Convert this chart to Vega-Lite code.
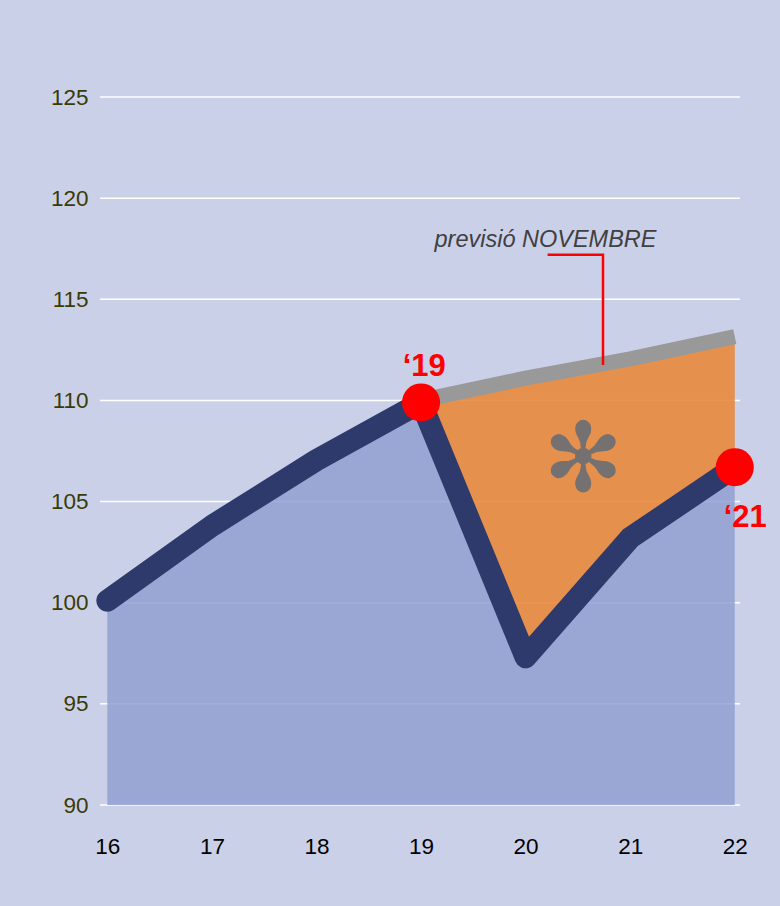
{
  "$schema": "https://vega.github.io/schema/vega-lite/v6.json",
  "width": 640,
  "height": 708,
  "autosize": {"type": "none"},
  "padding": {"left": 100, "top": 97, "right": 40, "bottom": 101},
  "background": "#cbd0e9",
  "config": {"view": {"stroke": null}, "font": "Liberation Sans"},
  "datasets": {
    "real": [
      {"year": 16, "value": 100.1},
      {"year": 17, "value": 103.8},
      {"year": 18, "value": 107.05},
      {"year": 19, "value": 109.9},
      {"year": 20, "value": 97.3},
      {"year": 21, "value": 103.2},
      {"year": 22, "value": 106.7}
    ],
    "gap": [
      {"year": 19, "forecast": 110.0, "value": 109.9},
      {"year": 20, "forecast": 111.1, "value": 97.3},
      {"year": 21, "forecast": 112.05, "value": 103.2},
      {"year": 22, "forecast": 113.15, "value": 106.7}
    ],
    "grid": [{"g": 90}, {"g": 95}, {"g": 100}, {"g": 105}, {"g": 110}, {"g": 115}, {"g": 120}, {"g": 125}],
    "dots": [
      {"year": 19, "value": 109.9, "label": "‘19"},
      {"year": 22, "value": 106.7, "label": "‘21"}
    ],
    "leader": [
      {"o": 1, "x": 20.21, "y": 117.2},
      {"o": 2, "x": 20.74, "y": 117.2},
      {"o": 3, "x": 20.74, "y": 111.75}
    ]
  },
  "layer": [
    {
      "data": {"name": "grid"},
      "mark": {"type": "rule", "color": "white", "strokeWidth": 1.5},
      "encoding": {
        "y": {
          "field": "g", "type": "quantitative",
          "scale": {"domain": [90, 125], "nice": false, "zero": false},
          "axis": {"values": [90, 95, 100, 105, 110, 115, 120, 125], "domain": false, "ticks": false, "tickSize": 0, "grid": false, "labelFontSize": 22.5, "labelColor": "#3a3a05", "labelPadding": 12, "title": null}
        }
      }
    },
    {
      "data": {"name": "real"},
      "mark": {"type": "area", "color": "#92a0d0", "opacity": 0.85},
      "encoding": {
        "x": {
          "field": "year", "type": "quantitative",
          "scale": {"domain": [15.93, 22.05], "nice": false, "zero": false},
          "axis": {"values": [16, 17, 18, 19, 20, 21, 22], "format": "d", "domain": false, "ticks": false, "tickSize": 0, "grid": false, "labelFontSize": 22.5, "labelColor": "#000000", "labelPadding": 30, "title": null}
        },
        "y": {"field": "value", "type": "quantitative"},
        "y2": {"datum": 90}
      }
    },
    {
      "data": {"name": "gap"},
      "mark": {"type": "area", "color": "#e98638", "opacity": 0.88},
      "encoding": {
        "x": {"field": "year", "type": "quantitative"},
        "y": {"field": "forecast", "type": "quantitative"},
        "y2": {"field": "value"}
      }
    },
    {
      "data": {"name": "gap"},
      "mark": {"type": "line", "color": "#999999", "strokeWidth": 15, "strokeCap": "butt"},
      "encoding": {
        "x": {"field": "year", "type": "quantitative"},
        "y": {"field": "forecast", "type": "quantitative"}
      }
    },
    {
      "data": {"name": "real"},
      "mark": {"type": "line", "color": "#2e3a6b", "strokeWidth": 22, "strokeCap": "round", "strokeJoin": "round"},
      "encoding": {
        "x": {"field": "year", "type": "quantitative"},
        "y": {"field": "value", "type": "quantitative"}
      }
    },
    {
      "data": {"name": "dots"},
      "mark": {"type": "circle", "color": "#ff0000", "opacity": 1, "size": 1450},
      "encoding": {
        "x": {"field": "year", "type": "quantitative"},
        "y": {"field": "value", "type": "quantitative"}
      }
    },
    {
      "data": {"values": [{"x": 19.03, "y": 111.65, "t": "‘19"}, {"x": 22.1, "y": 104.2, "t": "‘21"}]},
      "mark": {"type": "text", "color": "#ff0000", "fontSize": 31, "fontWeight": "bold", "align": "center", "baseline": "middle"},
      "encoding": {
        "x": {"field": "x", "type": "quantitative"},
        "y": {"field": "y", "type": "quantitative"},
        "text": {"field": "t"}
      }
    },
    {
      "data": {"values": [{"x": 20.19, "y": 117.93, "t": "previsió NOVEMBRE"}]},
      "mark": {"type": "text", "color": "#404040", "fontSize": 23.5, "fontStyle": "italic", "align": "center", "baseline": "middle"},
      "encoding": {
        "x": {"field": "x", "type": "quantitative"},
        "y": {"field": "y", "type": "quantitative"},
        "text": {"field": "t"}
      }
    },
    {
      "data": {"name": "leader"},
      "mark": {"type": "line", "color": "#ff0000", "strokeWidth": 2.5},
      "encoding": {
        "x": {"field": "x", "type": "quantitative"},
        "y": {"field": "y", "type": "quantitative"},
        "order": {"field": "o"}
      }
    },
    {
      "data": {"values": [{"x": 20.55, "y": 106.95, "t": "✻"}]},
      "mark": {"type": "text", "color": "#767171", "fontSize": 96, "font": "DejaVu Sans", "align": "center", "baseline": "middle"},
      "encoding": {
        "x": {"field": "x", "type": "quantitative"},
        "y": {"field": "y", "type": "quantitative"},
        "text": {"field": "t"}
      }
    }
  ]
}
